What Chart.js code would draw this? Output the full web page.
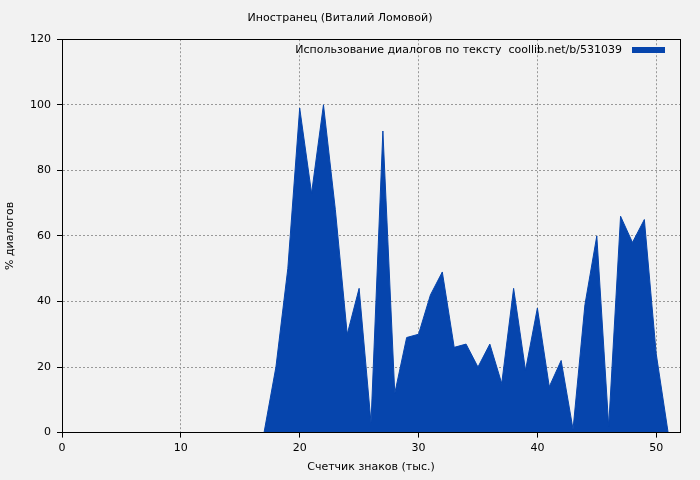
<!DOCTYPE html>
<html>
<head>
<meta charset="utf-8">
<script src="https://cdn.jsdelivr.net/npm/chart.js@4/dist/chart.umd.min.js"></script>
<style>
  html, body { margin: 0; padding: 0; background: #f2f2f2; }
</style>
</head>
<body>
<canvas id="chart" width="700" height="480"></canvas>
<script>
const chartTitle = "Иностранец (Виталий Ломовой)";
const seriesLabel = "Использование диалогов по тексту  coollib.net/b/531039";
const xTicks = [0, 10, 20, 30, 40, 50];
const yTicks = [0, 20, 40, 60, 80, 100, 120];
const xValues = [0, 17, 18, 19, 20, 21, 22, 23, 24, 25, 26, 27, 28, 29, 30, 31, 32, 33, 34, 35,
  36, 37, 38, 39, 40, 41, 42, 43, 44, 45, 46, 47, 48, 49, 50, 51];
const dialogPct = [0, 0, 20, 50, 99, 73, 100, 68, 30, 44, 3, 92, 12, 29, 30, 42, 49, 26, 27, 20,
  27, 15, 44, 19, 38, 14, 22, 1, 39, 60, 2, 66, 58, 65, 24, 0];

const font = { family: "DejaVu Sans", size: 11, weight: "normal" };

// legend drawn inside the plot, text on the left and a wide box on the right
const insideLegend = {
  id: "insideLegend",
  afterDraw(chart) {
    const { ctx, chartArea } = chart;
    ctx.save();
    ctx.font = "11px 'DejaVu Sans'";
    ctx.fillStyle = "#000";
    ctx.textAlign = "right";
    ctx.textBaseline = "middle";
    ctx.fillText(seriesLabel, chartArea.right - 58, 50);
    ctx.fillStyle = "#0645ad";
    ctx.fillRect(chartArea.right - 48, 47, 33, 6);
    ctx.restore();
  }
};

new Chart(document.getElementById("chart").getContext("2d"), {
  type: "line",
  data: {
    datasets: [{
      label: seriesLabel,
      data: xValues.map((x, i) => ({ x: x, y: dialogPct[i] })),
      borderColor: "#0645ad",
      backgroundColor: "#0645ad",
      borderWidth: 1,
      pointRadius: 0,
      fill: "origin",
      tension: 0
    }]
  },
  options: {
    animation: false,
    responsive: false,
    devicePixelRatio: 1,
    layout: { padding: { left: 0, right: 20, top: 0, bottom: 2 } },
    plugins: {
      legend: { display: false },
      tooltip: { enabled: false },
      title: {
        display: true, text: chartTitle, color: "#000", font: font,
        padding: { top: 12, bottom: 14 }
      }
    },
    scales: {
      x: {
        type: "linear", min: 0, max: 52,
        afterBuildTicks: (s) => { s.ticks = xTicks.map(v => ({ value: v })); },
        ticks: { color: "#000", font: font, padding: 4 },
        grid: { color: "#999", tickColor: "#000", tickLength: 5 },
        border: { color: "#000", width: 1, dash: [2, 2] },
        title: { display: true, text: "Счетчик знаков (тыс.)", color: "#000", font: font, padding: { top: 2 } }
      },
      y: {
        min: 0, max: 120,
        afterBuildTicks: (s) => { s.ticks = yTicks.map(v => ({ value: v })); },
        afterFit: (s) => { s.width = 62; },
        ticks: { color: "#000", font: font, padding: 6 },
        grid: { color: "#999", tickColor: "#000", tickLength: 5 },
        border: { color: "#000", width: 1, dash: [2, 2] },
        title: { display: true, text: "% диалогов", color: "#000", font: font }
      }
    }
  },
  plugins: [insideLegend, {
    id: "frame",
    beforeDraw(chart) {
      const c = chart.ctx;
      c.save(); c.fillStyle = "#f2f2f2"; c.fillRect(0, 0, chart.width, chart.height); c.restore();
    },
    afterDatasetsDraw(chart) {
      const { ctx, chartArea: a } = chart;
      ctx.save();
      ctx.strokeStyle = "#000"; ctx.lineWidth = 1;
      ctx.strokeRect(Math.round(a.left) + 0.5, Math.round(a.top) + 0.5,
        Math.round(a.right - a.left), Math.round(a.bottom - a.top));
      ctx.restore();
    }
  }]
});
</script>
</body>
</html>
